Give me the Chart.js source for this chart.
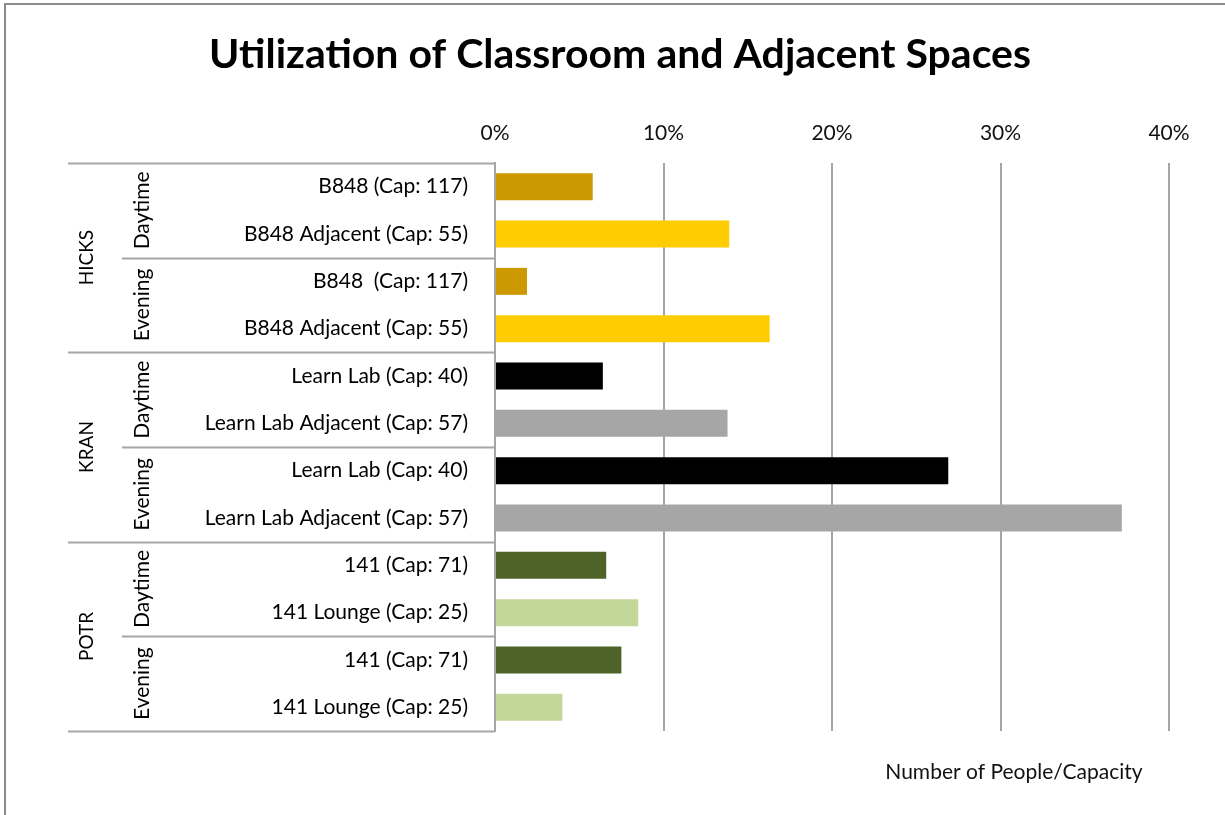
<!DOCTYPE html>
<html><head><meta charset="utf-8">
<script src="https://cdn.jsdelivr.net/npm/chart.js@4"></script>
<style>html,body{margin:0;padding:0;background:#fff}#wrap{width:1225px;height:815px;position:relative}</style>
</head><body><div id="wrap"><canvas id="c" width="1225" height="815"></canvas></div>
<script>
const chartTitle = 'Utilization of Classroom and Adjacent Spaces';
const xAxisTitle = 'Number of People/Capacity';
const buildings = ['HICKS', 'KRAN', 'POTR'];
const periods = ['Daytime', 'Evening'];
const categories = [
  'B848 (Cap: 117)', 'B848 Adjacent (Cap: 55)', 'B848  (Cap: 117)', 'B848 Adjacent (Cap: 55)',
  'Learn Lab (Cap: 40)', 'Learn Lab Adjacent (Cap: 57)', 'Learn Lab (Cap: 40)', 'Learn Lab Adjacent (Cap: 57)',
  '141 (Cap: 71)', '141 Lounge (Cap: 25)', '141 (Cap: 71)', '141 Lounge (Cap: 25)'
];
const utilization = [0.058, 0.139, 0.019, 0.163, 0.064, 0.138, 0.269, 0.372, 0.066, 0.085, 0.075, 0.040];
const xTicks = [0, 0.1, 0.2, 0.3, 0.4];

const barColors = ['#CC9900', '#FFCC00', '#CC9900', '#FFCC00', '#000000', '#A6A6A6', '#000000', '#A6A6A6', '#4F6228', '#C4D79B', '#4F6228', '#C4D79B'];
const FONT = 'Lato';
const LINE = '#A6A6A6';

const decor = {
  id: 'decor',
  afterDraw(chart) {
    const ctx = chart.ctx;
    const area = chart.chartArea;
    const n = categories.length;
    const band = (area.bottom - area.top) / n;
    const edge = k => area.top + k * band;
    ctx.save();
    // outer frame
    ctx.strokeStyle = '#8C8C8C';
    ctx.lineWidth = 2;
    ctx.beginPath();
    ctx.moveTo(5, 815); ctx.lineTo(5, 4); ctx.lineTo(1225, 4);
    ctx.stroke();
    // title
    ctx.fillStyle = '#000';
    ctx.font = 'bold 41px ' + FONT;
    ctx.textAlign = 'center';
    ctx.textBaseline = 'middle';
    ctx.fillText(chartTitle, 620, 55);
    // x axis title
    ctx.font = '21px ' + FONT;
    ctx.fillStyle = '#111';
    ctx.fillText(xAxisTitle, 1014, 772);
    // group lines
    ctx.strokeStyle = LINE;
    ctx.lineWidth = 2;
    const perGroup = n / buildings.length;
    const perPeriod = perGroup / periods.length;
    for (let k = 0; k <= n; k += perGroup) {
      ctx.beginPath(); ctx.moveTo(68, Math.round(edge(k)) + 0.5); ctx.lineTo(area.left, Math.round(edge(k)) + 0.5); ctx.stroke();
    }
    for (let k = perPeriod; k < n; k += perGroup) {
      ctx.beginPath(); ctx.moveTo(122, Math.round(edge(k)) + 0.5); ctx.lineTo(area.left, Math.round(edge(k)) + 0.5); ctx.stroke();
    }
    // rotated labels
    ctx.fillStyle = '#000';
    buildings.forEach((b, g) => {
      const cy = edge(g * perGroup + perGroup / 2);
      ctx.font = '19px ' + FONT;
      ctx.save(); ctx.translate(87, cy); ctx.rotate(-Math.PI / 2); ctx.fillText(b, 0, 0); ctx.restore();
      ctx.font = '21px ' + FONT;
      periods.forEach((p, j) => {
        const cy2 = edge(g * perGroup + j * perPeriod + perPeriod / 2);
        ctx.save(); ctx.translate(142, cy2); ctx.rotate(-Math.PI / 2); ctx.fillText(p, 0, 0); ctx.restore();
      });
    });
    ctx.restore();
  }
};

new Chart(document.getElementById('c').getContext('2d'), {
  type: 'bar',
  data: {
    labels: categories,
    datasets: [{ data: utilization, backgroundColor: barColors, borderWidth: 0, barPercentage: 0.57, categoryPercentage: 1 }]
  },
  options: {
    indexAxis: 'y',
    responsive: false,
    animation: false,
    layout: { padding: { left: 0, right: 56, top: 0, bottom: 84 } },
    plugins: { legend: { display: false }, title: { display: false }, tooltip: { enabled: false } },
    scales: {
      x: {
        position: 'top', min: xTicks[0], max: xTicks[xTicks.length - 1],
        afterBuildTicks: s => { s.ticks = xTicks.map(v => ({ value: v })); },
        ticks: { callback: v => Math.round(v * 100) + '%', font: { family: FONT, size: 21 }, color: '#111', padding: 17, maxRotation: 0 },
        grid: { color: LINE, lineWidth: 2, drawTicks: false },
        border: { display: false },
        afterFit: s => { s.height = 163; }
      },
      y: {
        ticks: { font: { family: FONT, size: 21 }, color: '#000', padding: 19, autoSkip: false },
        grid: { display: false },
        border: { display: true, color: LINE, width: 2 },
        afterFit: s => { s.width = 495; }
      }
    }
  },
  plugins: [decor]
});
</script></body></html>
